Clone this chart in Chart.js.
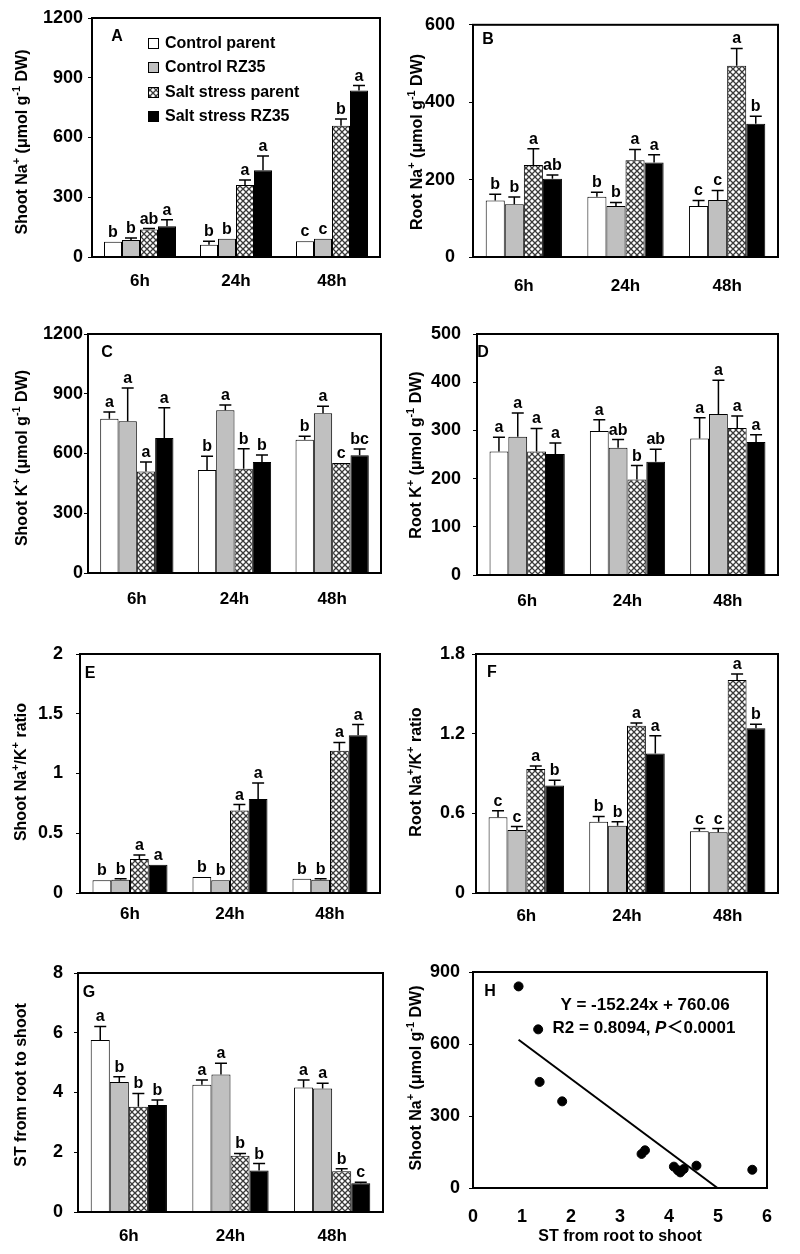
<!DOCTYPE html>
<html><head><meta charset="utf-8">
<script src="https://cdn.jsdelivr.net/npm/chart.js@4/dist/chart.umd.min.js"></script>
<style>
html,body{margin:0;padding:0;background:#fff;}
#wrap{position:relative;width:800px;height:1254px;overflow:hidden;}
canvas{position:absolute;}
</style></head><body><div id="wrap"></div>
<script>
// ---------------- DATA ----------------
const categories = ['6h', '24h', '48h'];
const seriesNames = ['Control parent', 'Control RZ35', 'Salt stress parent', 'Salt stress RZ35'];

// A: Shoot Na+ (series x time)
const shootNa    = [[77, 62, 79], [85, 92, 92], [138, 361, 659], [155, 436, 836]];
const shootNaErr = [[0, 17, 0], [10, 0, 0], [5, 25, 34], [32, 71, 25]];
const shootNaSig = [['b','b','c'], ['b','b','c'], ['ab','a','b'], ['a','a','a']];
const shootNaTicks = [0, 300, 600, 900, 1200];

// B: Root Na+
const rootNa    = [[146, 156, 132], [136, 132, 147], [238, 250, 494], [202, 244, 344]];
const rootNaErr = [[16, 11, 14], [19, 9, 25], [42, 28, 45], [10, 20, 20]];
const rootNaSig = [['b','b','c'], ['b','b','c'], ['a','a','a'], ['ab','a','b']];
const rootNaTicks = [0, 200, 400, 600];

// C: Shoot K+
const shootK    = [[775, 517, 669], [762, 817, 802], [509, 524, 552], [678, 557, 591]];
const shootKErr = [[33, 69, 17], [167, 26, 35], [48, 100, 0], [152, 35, 32]];
const shootKSig = [['a','b','b'], ['a','a','a'], ['a','b','c'], ['a','b','bc']];
const shootKTicks = [0, 300, 600, 900, 1200];

// D: Root K+
const rootK    = [[256, 299, 283], [287, 264, 334], [256, 198, 305], [251, 235, 276]];
const rootKErr = [[30, 23, 43], [49, 17, 70], [48, 29, 25], [23, 26, 15]];
const rootKSig = [['a','a','a'], ['a','ab','a'], ['a','b','a'], ['a','ab','a']];
const rootKTicks = [0, 100, 200, 300, 400, 500];

// E: Shoot Na+/K+ ratio
const shootRatio    = [[0.106, 0.134, 0.12], [0.11, 0.106, 0.11], [0.285, 0.69, 1.19], [0.237, 0.787, 1.32]];
const shootRatioErr = [[0, 0, 0], [0.01, 0, 0.01], [0.033, 0.05, 0.07], [0, 0.133, 0.09]];
const shootRatioSig = [['b','b','b'], ['b','b','b'], ['a','a','a'], ['a','a','a']];
const shootRatioTicks = [0, 0.5, 1, 1.5, 2];

// F: Root Na+/K+ ratio
const rootRatio    = [[0.57, 0.537, 0.465], [0.475, 0.507, 0.457], [0.934, 1.26, 1.604], [0.81, 1.05, 1.24]];
const rootRatioErr = [[0.05, 0.04, 0.02], [0.025, 0.03, 0.028], [0.023, 0.02, 0.046], [0.04, 0.135, 0.03]];
const rootRatioSig = [['c','b','c'], ['c','b','c'], ['a','a','a'], ['b','a','b']];
const rootRatioTicks = [0, 0.6, 1.2, 1.8];

// G: ST from root to shoot
const stVals = [[5.76, 4.26, 4.17], [4.35, 4.6, 4.13], [3.52, 1.88, 1.36], [3.58, 1.39, 0.96]];
const stErr  = [[0.45, 0.16, 0.25], [0.18, 0.38, 0.18], [0.45, 0.08, 0.09], [0.17, 0.23, 0.04]];
const stSig  = [['a','a','a'], ['b','a','a'], ['b','b','b'], ['b','b','c']];
const stTicks = [0, 2, 4, 6, 8];

// H: scatter ST vs Shoot Na+
const scatterST = [0.93, 1.33, 1.36, 1.82, 3.44, 3.51, 4.10, 4.18, 4.23, 4.30, 4.56, 5.70];
const scatterNa = [840, 661, 442, 361, 142, 157, 89, 74, 65, 79, 93, 76];
const trendX = [0.93, 4.99];
const trendY = [618, 0];
const hXTicks = [0, 1, 2, 3, 4, 5, 6];
const hYTicks = [0, 300, 600, 900];
const equationText = 'Y = -152.24x + 760.06';
const r2Text = 'R2 = 0.8094, ';
const pText = '＜0.0001';

// ---------------- STYLE / LAYOUT ----------------
const FAM = "'Liberation Sans', Arial, Helvetica, 'Noto Sans CJK SC', sans-serif";
Chart.defaults.font.family = FAM;
Chart.defaults.font.weight = 'bold';
Chart.defaults.color = '#000';
function fontStr(size, italic) { return (italic ? 'italic ' : '') + 'bold ' + size + 'px ' + FAM; }

function makePattern() {
  const c = document.createElement('canvas'); c.width = 6; c.height = 6;
  const g = c.getContext('2d');
  g.fillStyle = '#ffffff'; g.fillRect(0, 0, 6, 6);
  g.strokeStyle = '#3a3a3a'; g.lineWidth = 1.3;
  g.beginPath();
  g.moveTo(-1, -1); g.lineTo(7, 7);
  g.moveTo(7, -1); g.lineTo(-1, 7);
  g.stroke();
  return g.createPattern(c, 'repeat');
}
const hatch = makePattern();
const fills = ['#ffffff', '#c0c0c0', hatch, '#000000'];

function drawRich(ctx, segs, x, y, size, align) {
  const sub = Math.round(size * 0.68);
  const widths = segs.map(s => { ctx.font = fontStr(s.sup ? sub : size, s.it); return ctx.measureText(s.t).width; });
  const total = widths.reduce((a, b) => a + b, 0);
  let cx = align === 'center' ? x - total / 2 : (align === 'right' ? x - total : x);
  ctx.textAlign = 'left'; ctx.textBaseline = 'alphabetic'; ctx.fillStyle = '#000';
  segs.forEach((s, i) => {
    ctx.font = fontStr(s.sup ? sub : size, s.it);
    ctx.fillText(s.t, cx, s.sup ? y - size * 0.42 : y);
    cx += widths[i];
  });
}

const naTitle = [{t:'Shoot Na'},{t:'+',sup:1},{t:' (μmol g'},{t:'-1',sup:1},{t:' DW)'}];
const rootNaTitle = [{t:'Root Na'},{t:'+',sup:1},{t:' (μmol g'},{t:'-1',sup:1},{t:' DW)'}];
const shootKTitle = [{t:'Shoot K'},{t:'+',sup:1},{t:' (μmol g'},{t:'-1',sup:1},{t:' DW)'}];
const rootKTitle = [{t:'Root K'},{t:'+',sup:1},{t:' (μmol g'},{t:'-1',sup:1},{t:' DW)'}];
const shootRatioTitle = [{t:'Shoot Na'},{t:'+',sup:1},{t:'/K'},{t:'+',sup:1},{t:' ratio'}];
const rootRatioTitle = [{t:'Root Na'},{t:'+',sup:1},{t:'/K'},{t:'+',sup:1},{t:' ratio'}];
const stTitle = [{t:'ST from root to shoot'}];

const panels = [
  {letter:'A', lx:117, ly:37, x0:0,   y0:0,   w:400, h:310, L:92,  R:380, T:18,  B:257,  ypad:5,  xoff:23, tx:21,  ty:142, title:naTitle,        vals:shootNa,    err:shootNaErr,    sig:shootNaSig,    ticks:shootNaTicks, legend:true},
  {letter:'B', lx:488, ly:40, x0:400, y0:0,   w:400, h:310, L:473, R:778, T:18,  B:257,  ypad:14, xoff:28, tx:416, ty:142, title:rootNaTitle,    vals:rootNa,     err:rootNaErr,     sig:rootNaSig,     ticks:rootNaTicks},
  {letter:'C', lx:107, ly:353,x0:0,   y0:310, w:400, h:320, L:88,  R:381, T:334, B:573,  ypad:1,  xoff:25, tx:21,  ty:458, title:shootKTitle,    vals:shootK,     err:shootKErr,     sig:shootKSig,     ticks:shootKTicks},
  {letter:'D', lx:483, ly:353,x0:400, y0:310, w:400, h:320, L:477, R:778, T:334, B:575,  ypad:12, xoff:25, tx:415, ty:455, title:rootKTitle,     vals:rootK,      err:rootKErr,      sig:rootKSig,      ticks:rootKTicks},
  {letter:'E', lx:90,  ly:674,x0:0,   y0:630, w:400, h:320, L:80,  R:380, T:654, B:893,  ypad:13, xoff:20, tx:20,  ty:772, title:shootRatioTitle,vals:shootRatio, err:shootRatioErr, sig:shootRatioSig, ticks:shootRatioTicks},
  {letter:'F', lx:492, ly:673,x0:400, y0:630, w:400, h:320, L:476, R:778, T:654, B:893,  ypad:7,  xoff:22, tx:415, ty:772, title:rootRatioTitle, vals:rootRatio,  err:rootRatioErr,  sig:rootRatioSig,  ticks:rootRatioTicks},
  {letter:'G', lx:89,  ly:993,x0:0,   y0:950, w:400, h:304, L:78,  R:383, T:973, B:1212, ypad:11, xoff:23, tx:20,  ty:1085,title:stTitle,        vals:stVals,     err:stErr,         sig:stSig,         ticks:stTicks}
];
const panelH = {letter:'H', lx:490, ly:992, x0:400, y0:950, w:400, h:296, L:473, R:767, T:972, B:1188, ypad:9, xoff:27, tx:415, ty:1078, title:naTitle};

const wrap = document.getElementById('wrap');
function makeCanvas(P) {
  const c = document.createElement('canvas');
  c.width = P.w; c.height = P.h;
  c.style.left = P.x0 + 'px'; c.style.top = P.y0 + 'px';
  c.style.width = P.w + 'px'; c.style.height = P.h + 'px';
  wrap.appendChild(c);
  return c;
}

function decorPlugin(P) {
  return {
    id: 'decor' + P.letter,
    afterDatasetsDraw(chart) {
      const ctx = chart.ctx;
      if (P.err) {
        const ys = chart.scales.y;
        chart.data.datasets.forEach((ds, i) => {
          const meta = chart.getDatasetMeta(i);
          meta.data.forEach((el, j) => {
            const e = P.err[i][j];
            const yt = ys.getPixelForValue(ds.data[j] + e);
            ctx.save();
            ctx.strokeStyle = '#000'; ctx.lineWidth = 1.5;
            if (e > 0) {
              ctx.beginPath();
              ctx.moveTo(el.x, el.y); ctx.lineTo(el.x, yt);
              ctx.moveTo(el.x - 6, yt); ctx.lineTo(el.x + 6, yt);
              ctx.stroke();
            }
            ctx.fillStyle = '#000'; ctx.font = fontStr(16);
            ctx.textAlign = 'center'; ctx.textBaseline = 'alphabetic';
            ctx.fillText(P.sig[i][j], el.x, yt - 5);
            ctx.restore();
          });
        });
      }
    },
    afterDraw(chart) {
      const ctx = chart.ctx, a = chart.chartArea;
      ctx.save();
      ctx.strokeStyle = '#000'; ctx.lineWidth = 2;
      ctx.strokeRect(a.left, a.top, a.right - a.left, a.bottom - a.top);
      // panel letter
      ctx.fillStyle = '#000'; ctx.font = fontStr(16);
      ctx.textAlign = 'center'; ctx.textBaseline = 'middle';
      ctx.fillText(P.letter, P.lx - P.x0, P.ly - P.y0);
      // y title
      ctx.save();
      ctx.translate(P.tx - P.x0, P.ty - P.y0);
      ctx.rotate(-Math.PI / 2);
      drawRich(ctx, P.title, 0, 6, 16, 'center');
      ctx.restore();
      // legend
      if (P.legend) {
        const rows = [43, 67, 92, 116];
        seriesNames.forEach((n, i) => {
          const cy = rows[i] - P.y0;
          ctx.fillStyle = fills[i];
          ctx.fillRect(148 - P.x0, cy - 5, 10, 10);
          ctx.strokeStyle = '#000'; ctx.lineWidth = 1;
          ctx.strokeRect(148.5 - P.x0, cy - 4.5, 10, 10);
          ctx.fillStyle = '#000'; ctx.font = fontStr(16);
          ctx.textAlign = 'left'; ctx.textBaseline = 'middle';
          ctx.fillText(n, 165 - P.x0, cy + 1);
        });
      }
      if (P.texts) P.texts(ctx);
      ctx.restore();
    }
  };
}

function yScale(P, ticks) {
  return {
    min: ticks[0], max: ticks[ticks.length - 1],
    afterBuildTicks: s => { s.ticks = ticks.map(v => ({value: v})); },
    afterFit: s => { s.width = P.L - P.x0; },
    grid: {display: true, drawOnChartArea: false, drawTicks: true, tickLength: 4, color: '#000', lineWidth: 1},
    border: {display: false},
    ticks: {font: {size: 18, weight: 'bold'}, color: '#000', padding: P.ypad, callback: v => String(v)}
  };
}

panels.forEach(P => {
  const c = makeCanvas(P);
  new Chart(c, {
    type: 'bar',
    data: {
      labels: categories,
      datasets: seriesNames.map((n, i) => ({
        label: n, data: P.vals[i], backgroundColor: fills[i],
        borderColor: '#000', borderWidth: 1,
        categoryPercentage: 0.75, barPercentage: 1
      }))
    },
    options: {
      responsive: false, animation: false, devicePixelRatio: 1,
      layout: {padding: {top: P.T - P.y0, right: P.x0 + P.w - P.R, left: 0, bottom: 0}},
      plugins: {legend: {display: false}, tooltip: {enabled: false}},
      scales: {
        x: {
          afterFit: s => { s.height = P.y0 + P.h - P.B; },
          grid: {display: false}, border: {display: false},
          ticks: {font: {size: 17, weight: 'bold'}, color: '#000', padding: P.xoff - 17}
        },
        y: yScale(P, P.ticks)
      }
    },
    plugins: [decorPlugin(P)]
  });
});

// Panel H
panelH.texts = function(ctx) {
  const P = panelH;
  drawRich(ctx, [{t: equationText}], 645 - P.x0, 1010 - P.y0, 17, 'center');
  drawRich(ctx, [{t: r2Text}, {t: 'P', it: 1}, {t: pText}], 644 - P.x0, 1033 - P.y0, 17, 'center');
};
(function() {
  const P = panelH;
  const c = makeCanvas(P);
  new Chart(c, {
    type: 'scatter',
    data: {
      datasets: [
        {data: scatterST.map((x, i) => ({x: x, y: scatterNa[i]})), backgroundColor: '#000', borderColor: '#000', pointRadius: 4.5, showLine: false},
        {type: 'line', data: trendX.map((x, i) => ({x: x, y: trendY[i]})), borderColor: '#000', borderWidth: 2, pointRadius: 0, showLine: true, fill: false}
      ]
    },
    options: {
      responsive: false, animation: false, devicePixelRatio: 1,
      layout: {padding: {top: P.T - P.y0, right: P.x0 + P.w - P.R, left: 0, bottom: 0}},
      plugins: {legend: {display: false}, tooltip: {enabled: false}},
      scales: {
        x: {
          type: 'linear', min: 0, max: 6,
          afterBuildTicks: s => { s.ticks = hXTicks.map(v => ({value: v})); },
          afterFit: s => { s.height = P.y0 + P.h - P.B; },
          grid: {display: false}, border: {display: false},
          title: {display: true, text: 'ST from root to shoot', font: {size: 16, weight: 'bold'}, color: '#000', padding: {top: 2, bottom: 0}},
          ticks: {font: {size: 18, weight: 'bold'}, color: '#000', padding: P.xoff - 17, callback: v => String(v)}
        },
        y: yScale(P, hYTicks)
      }
    },
    plugins: [decorPlugin(P)]
  });
})();
</script>
</body></html>
